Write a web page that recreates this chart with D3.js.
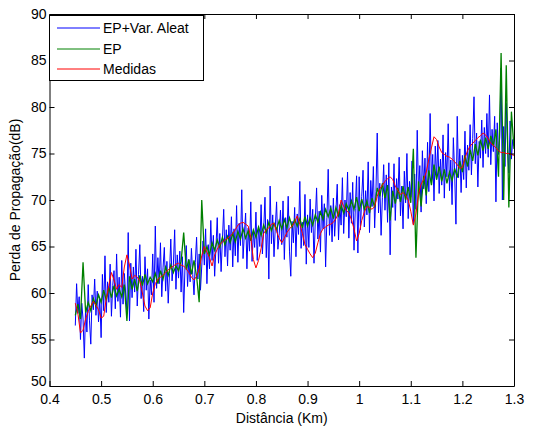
<!DOCTYPE html>
<html>
<head>
<meta charset="utf-8">
<script src="https://cdn.jsdelivr.net/npm/d3@7"></script>
<style>
  body { margin: 0; background: #fff; }
  text { font-family: "Liberation Sans", Arial, sans-serif; }
</style>
</head>
<body>
<div id="chart"></div>
<script>
// distances start at 0.45 km, ends at 1.30 km
const distStart = 0.45
const distEnd = 1.30
const stepAleat = 0.0025
const stepEP = 0.005
const stepMed = 0.005

const xTicks = [0.4, 0.5, 0.6, 0.7, 0.8, 0.9, 1.0, 1.1, 1.2, 1.3]
const yTicks = [50, 55, 60, 65, 70, 75, 80, 85, 90]
const seriesNames = ['EP+Var. Aleat', 'EP', 'Medidas']

// EP + variavel aleatoria (blue)
const epAleat = [
  56.5, 61.0, 57.8, 59.6, 55.0, 58.9, 57.2, 53.0, 58.5, 55.8, 60.9, 57.0, 54.5, 59.8, 58.2, 61.5, 57.6, 60.2, 56.9, 59.4,
  55.2, 62.0, 58.1, 64.0, 57.9, 61.2, 59.0, 63.1, 57.5, 60.8, 62.4, 58.3, 64.2, 59.1, 61.7, 57.4, 63.5, 58.8, 62.1, 60.0,
  58.2, 66.5, 57.0, 63.2, 59.5, 62.8, 60.1, 64.7, 58.6, 62.0, 65.2, 59.4, 61.8, 58.0, 63.9, 60.3, 62.6, 57.2, 61.4, 59.8,
  64.2, 59.0, 67.2, 60.5, 63.8, 61.0, 65.4, 59.6, 62.7, 64.9, 60.2, 63.4, 58.9, 62.1, 65.8, 61.3, 63.0, 66.8, 60.4, 64.1,
  61.6, 64.5, 60.1, 63.9, 57.9, 62.8, 65.1, 60.7, 63.6, 61.2, 64.8, 62.0, 59.8, 63.3, 66.0, 61.5, 64.2, 60.3, 62.9, 65.6,
  63.0, 66.9, 61.0, 65.2, 62.6, 67.8, 63.5, 66.2, 61.8, 64.9, 68.1, 63.2, 66.4, 62.3, 65.7, 69.0, 63.9, 66.8, 62.9, 67.3,
  64.6, 68.2, 62.8, 66.9, 64.0, 69.4, 63.3, 67.5, 65.1, 71.1, 63.7, 66.3, 68.6, 62.6, 67.0, 64.5, 69.8, 63.4, 66.6, 64.9,
  68.7, 63.5, 67.2, 65.0, 69.5, 64.2, 66.8, 70.3, 63.8, 67.9, 61.5, 71.5, 65.3, 68.4, 63.9, 67.1, 69.8, 64.7, 66.2, 68.9,
  65.2, 69.9, 63.6, 68.1, 66.0, 70.4, 64.5, 61.8, 67.7, 65.4, 69.2, 63.9, 68.5, 66.3, 72.0, 64.8, 67.6, 65.1, 70.6, 63.1,
  68.4, 64.9, 70.1, 66.5, 69.0, 63.2, 67.9, 71.3, 65.8, 68.8, 64.4, 70.5, 66.9, 69.6, 62.8, 68.1, 73.3, 66.2, 69.4, 65.5,
  70.2, 66.1, 68.9, 71.7, 65.7, 69.5, 67.3, 72.4, 66.4, 70.0, 68.2, 73.0, 65.9, 70.8, 67.5, 71.9, 64.6, 69.1, 72.6, 64.3,
  72.5, 66.8, 70.4, 73.2, 67.1, 71.0, 68.4, 74.1, 66.5, 72.1, 69.3, 73.6, 67.0, 70.9, 77.2, 68.6, 71.8, 66.2, 70.3, 73.8,
  68.9, 72.7, 67.6, 74.0, 64.1, 71.4, 69.2, 73.9, 67.8, 72.3, 70.1, 74.6, 68.3, 71.5, 66.9, 73.1, 69.7, 75.0, 68.0, 72.0,
  70.3, 74.2, 67.4, 72.8, 69.0, 77.5, 70.6, 73.7, 68.7, 75.3, 71.2, 74.5, 69.6, 76.2, 70.9, 79.3, 71.9, 74.9, 69.9, 75.8,
  72.2, 76.4, 70.7, 74.4, 71.6, 77.0, 70.2, 75.1, 72.5, 78.2, 71.0, 74.3, 69.5, 76.7, 72.9, 67.4, 79.0, 72.4, 75.5, 70.8,
  74.8, 72.2, 77.4, 71.3, 75.9, 73.2, 78.1, 72.7, 76.6, 81.1, 73.9, 77.2, 71.4, 76.3, 74.5, 78.6, 73.5, 77.8, 75.0, 79.3,
  74.6, 81.3, 73.8, 77.6, 75.2, 79.0, 69.8, 78.3, 74.9, 76.8, 84.2, 70.0, 77.9, 73.6, 80.4, 75.7, 72.9, 78.5, 74.4, 76.5,
  75.8
]

// EP (green)
const ep = [
  57.6, 58.8, 57.2, 63.3, 57.9, 59.0, 58.1, 59.4, 58.6, 59.8,
  59.0, 60.3, 59.2, 60.6, 59.5, 60.8, 59.7, 60.4, 59.6, 60.9,
  57.0, 61.8, 60.4, 61.5, 60.2, 61.9, 60.8, 62.0, 61.0, 61.7,
  61.2, 62.1, 61.0, 62.4, 61.5, 62.8, 61.9, 63.0, 62.2, 62.9,
  62.4, 63.4, 66.5, 62.5, 63.6, 62.0, 63.5, 61.8, 59.0, 70.0,
  64.2, 65.0, 64.1, 65.4, 64.6, 65.7, 64.9, 66.0, 65.2, 66.1,
  65.4, 66.4, 65.5, 66.6, 65.8, 66.9, 65.9, 66.7, 65.6, 66.8,
  66.0, 67.1, 66.2, 67.3, 66.5, 67.6, 66.7, 67.5, 66.8, 67.8,
  66.9, 67.9, 67.0, 68.1, 67.1, 67.9, 67.2, 68.0, 67.0, 68.2,
  67.2, 68.1, 67.3, 68.4, 67.6, 68.7, 67.9, 69.0, 68.2, 69.1,
  68.0, 69.2, 68.3, 69.4, 68.6, 69.6, 68.9, 69.9, 69.0, 70.3,
  68.8, 70.1, 69.0, 69.9, 68.6, 70.2, 69.2, 71.3, 70.4, 71.8,
  70.2, 71.6, 67.8, 71.0, 69.6, 71.3, 69.8, 71.5, 70.0, 71.4,
  69.7, 75.5, 63.8, 72.0, 69.3, 72.6, 70.5, 73.2, 71.6, 73.8,
  72.2, 73.6, 72.0, 73.3, 71.8, 73.0, 72.1, 73.4, 72.4, 74.2,
  73.0, 74.8, 73.6, 75.4, 74.2, 76.0, 74.8, 76.5, 75.3, 76.7,
  75.5, 76.9, 75.8, 77.6, 72.5, 85.8, 70.0, 84.5, 69.2, 79.5,
  75.5
]

// Medidas (red)
const medidas = [
  58.9, 57.8, 55.7, 56.0, 57.2, 58.0, 58.6, 59.1, 58.7, 58.2,
  57.3, 57.5, 59.4, 60.8, 62.2, 61.4, 60.4, 60.9, 60.6, 62.8,
  64.1, 63.0, 61.5, 61.9, 61.7, 61.3, 60.0, 58.6, 58.1, 58.4,
  60.0, 61.0, 61.5, 61.7, 61.9, 62.2, 62.5, 62.7, 62.9, 63.1,
  63.2, 63.0, 62.9, 62.6, 62.2, 61.7, 61.4, 61.8, 62.6, 64.0,
  65.0, 64.4, 63.8, 62.9, 64.1, 64.7, 65.2, 65.5, 65.7, 65.9,
  66.1, 66.4, 66.8, 67.3, 67.5, 67.6, 67.4, 67.2, 66.0, 63.6,
  62.7, 63.5, 64.8, 66.4, 66.8, 67.0, 67.4, 67.5, 66.6, 65.9,
  65.4, 65.9, 66.5, 66.9, 67.2, 67.6, 68.3, 67.4, 66.4, 65.2,
  64.7, 64.2, 63.8, 64.3, 65.4, 66.4, 66.9, 67.1, 67.3, 67.4,
  67.6, 68.0, 68.6, 70.0, 69.3, 68.9, 68.6, 67.9, 66.9, 65.6,
  66.4, 67.8, 68.7, 69.3, 69.2, 69.0, 69.3, 70.4, 71.2, 71.6,
  72.0, 72.3, 72.5, 72.2, 71.5, 71.0, 70.6, 70.8, 70.5, 70.0,
  68.8, 67.3, 68.5, 70.6, 71.7, 72.2, 73.0, 74.4, 75.6, 76.8,
  76.5, 75.7, 75.1, 74.9, 74.7, 74.6, 74.4, 74.1, 73.8, 73.4,
  73.5, 74.5, 75.3, 75.8, 76.1, 76.4, 76.7, 76.9, 77.2, 77.0,
  76.6, 76.1, 75.9, 75.6, 75.3, 75.1, 75.1, 75.0, 75.0, 74.9,
  74.8
]

const colors = ['#0000ff', '#008000', '#ff0000']
const widths = [1, 1.3, 1]

const W = 533, H = 427
const margin = { top: 14, right: 19, bottom: 41, left: 49.5 }
const width = W - margin.left - margin.right
const height = H - margin.top - margin.bottom

const svg = d3.select('#chart').append('svg')
    .attr('width', W)
    .attr('height', H)

const g = svg.append('g')
    .attr('transform', `translate(${margin.left},${margin.top})`)

const xScale = d3.scaleLinear().domain([0.4, 1.3]).range([0, width])
const yScale = d3.scaleLinear().domain([50, 90]).range([height, 0])

// pair each series with its distance samples
const toPoints = (vals, step) => vals.map((v, i) => ({ d: distStart + i * step, v }))
const series = [
    toPoints(epAleat, stepAleat),
    toPoints(ep, stepEP),
    toPoints(medidas, stepMed)
]

const lineGen = d3.line()
    .x(p => xScale(p.d))
    .y(p => yScale(p.v))

g.append('g')
    .selectAll('path')
    .data(series)
    .join('path')
    .attr('d', lineGen)
    .attr('fill', 'none')
    .attr('stroke', (d, i) => colors[i])
    .attr('stroke-width', (d, i) => widths[i])
    .attr('stroke-linejoin', 'miter')

// axes, ticks pointing inward like matlab
const fmtX = d => d === 1 ? '1' : d3.format('.1f')(d)
const xAxis = g.append('g')
    .attr('transform', `translate(0,${height})`)
    .call(d3.axisBottom(xScale).tickValues(xTicks).tickFormat(fmtX).tickSize(-5).tickSizeOuter(0).tickPadding(8))
const xTop = g.append('g')
    .call(d3.axisTop(xScale).tickValues(xTicks).tickFormat('').tickSize(-5).tickSizeOuter(0))
const yAxis = g.append('g')
    .call(d3.axisLeft(yScale).tickValues(yTicks).tickSize(-5).tickSizeOuter(0).tickPadding(3))
const yRight = g.append('g')
    .attr('transform', `translate(${width},0)`)
    .call(d3.axisRight(yScale).tickValues(yTicks).tickFormat('').tickSize(-5).tickSizeOuter(0))

g.selectAll('.tick text')
    .attr('font-size', 14)
    .attr('font-family', '"Liberation Sans", Arial, sans-serif')
    .attr('fill', '#000')
g.selectAll('.domain, .tick line').attr('stroke', '#000')

// bottom y label sits a bit higher, like the original
yAxis.selectAll('.tick text').filter(d => d === 50).attr('dy', '-0.05em')

// axis labels
svg.append('text')
    .attr('x', margin.left + width / 2)
    .attr('y', 423)
    .attr('text-anchor', 'middle')
    .attr('font-size', 14)
    .text('Distância (Km)')

svg.append('text')
    .attr('transform', `translate(20,${margin.top + height / 2}) rotate(-90)`)
    .attr('text-anchor', 'middle')
    .attr('font-size', 14)
    .text('Perda de Propagação(dB)')

// legend
const legend = svg.append('g')
legend.append('rect')
    .attr('x', 49.5)
    .attr('y', 15.5)
    .attr('width', 154)
    .attr('height', 65)
    .attr('fill', '#fff')
    .attr('stroke', '#000')
    .attr('stroke-width', 1)

const legendY = [28, 49, 69]
seriesNames.forEach((name, i) => {
    legend.append('line')
        .attr('x1', 57).attr('x2', 100)
        .attr('y1', legendY[i]).attr('y2', legendY[i])
        .attr('stroke', colors[i])
        .attr('stroke-width', 1)
    legend.append('text')
        .attr('x', 103)
        .attr('y', legendY[i] + 5)
        .attr('font-size', 14)
        .text(name)
})
</script>
</body>
</html>
